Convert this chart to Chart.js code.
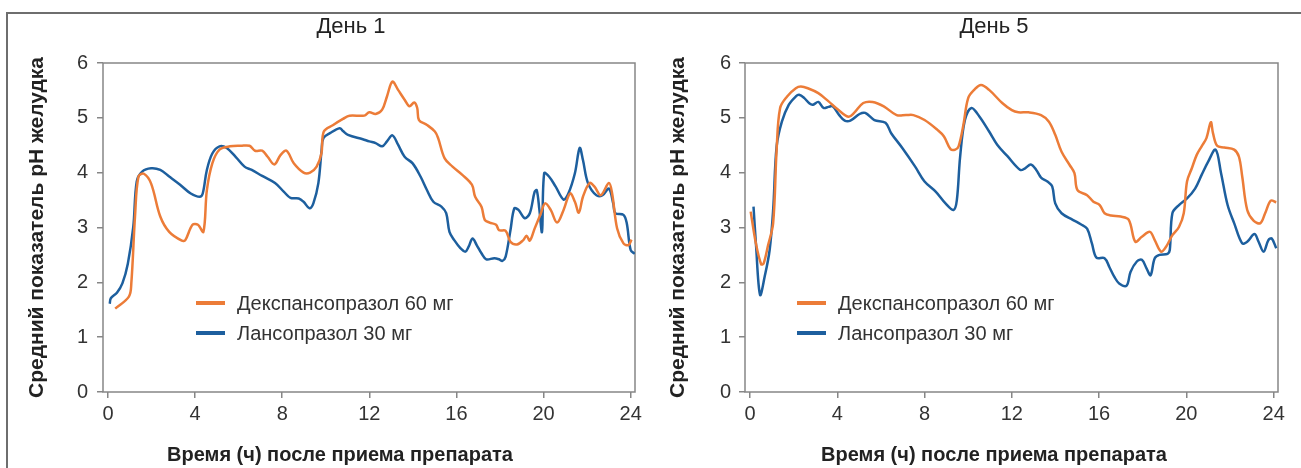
<!DOCTYPE html>
<html>
<head>
<meta charset="utf-8">
<script src="https://cdn.jsdelivr.net/npm/chart.js@4.4.1/dist/chart.umd.min.js"></script>
<style>
  body { margin: 0; background: #fff; width: 1301px; height: 468px; overflow: hidden; position: relative; }
  .frame { position: absolute; left: 6px; top: 12px; width: 1400px; height: 500px; border-top: 2px solid #6e6e6e; border-left: 2px solid #6e6e6e; }
  canvas { position: absolute; top: 0; }
  #day1 { left: 0; }
  #day5 { left: 650px; }
</style>
</head>
<body>
<div class="frame"></div>
<canvas id="day1" width="650" height="468"></canvas>
<canvas id="day5" width="651" height="468"></canvas>
<script>
// data: [hour, mean gastric pH]
const hourTicks = [0, 4, 8, 12, 16, 20, 24];
const seriesNames = ['Декспансопразол 60 мг', 'Лансопразол 30 мг'];
const panelTitles = ['День 1', 'День 5'];

const day1Dex = [[0.33,1.52],[0.96,1.74],[1.07,1.98],[1.24,3.2],[1.4,3.93],[1.65,3.98],[1.98,3.8],[2.4,3.2],[2.81,2.92],[3.39,2.76],[3.55,2.77],[3.88,3.05],[4.13,3.05],[4.38,2.92],[4.54,3.68],[4.79,4.17],[5.12,4.42],[5.6,4.48],[6.1,4.49],[6.5,4.49],[6.75,4.4],[7.08,4.4],[7.33,4.29],[7.64,4.15],[7.92,4.32],[8.2,4.4],[8.53,4.17],[8.98,4.0],[9.28,4.0],[9.58,4.11],[9.8,4.35],[9.91,4.75],[10.34,4.87],[10.79,4.98],[11.09,5.04],[11.77,5.04],[12.0,5.1],[12.29,5.07],[12.59,5.15],[12.81,5.39],[13.06,5.66],[13.32,5.51],[13.62,5.33],[13.84,5.21],[14.06,5.28],[14.2,5.18],[14.28,4.96],[14.65,4.87],[15.01,4.75],[15.16,4.63],[15.46,4.26],[15.82,4.11],[16.27,3.96],[16.71,3.78],[16.86,3.56],[17.15,3.38],[17.3,3.14],[17.52,3.09],[17.82,3.05],[17.96,2.95],[18.26,2.94],[18.48,2.74],[18.78,2.69],[19.07,2.77],[19.22,2.85],[19.37,2.76],[19.59,2.98],[19.88,3.26],[20.07,3.44],[20.33,3.32],[20.62,3.09],[20.92,3.32],[21.22,3.62],[21.44,3.47],[21.62,3.27],[21.81,3.56],[22.11,3.81],[22.33,3.75],[22.63,3.59],[23.0,3.81],[23.15,3.62],[23.38,2.98],[23.67,2.71],[23.9,2.68],[24.04,2.78]];

const day1Lan = [[0.08,1.61],[0.13,1.71],[0.41,1.81],[0.66,1.98],[0.91,2.34],[1.16,3.01],[1.32,3.84],[1.57,4.02],[1.98,4.08],[2.4,4.05],[2.81,3.93],[3.31,3.78],[3.8,3.62],[4.21,3.56],[4.35,3.62],[4.54,4.05],[4.79,4.35],[5.12,4.48],[5.45,4.45],[5.86,4.29],[6.27,4.11],[6.6,4.05],[7.08,3.94],[7.67,3.81],[8.08,3.65],[8.38,3.54],[8.76,3.53],[8.98,3.47],[9.25,3.35],[9.43,3.44],[9.66,3.81],[9.81,4.42],[9.89,4.63],[10.19,4.72],[10.64,4.81],[10.79,4.76],[11.02,4.69],[11.7,4.61],[12.0,4.57],[12.29,4.54],[12.59,4.48],[12.81,4.57],[13.06,4.68],[13.32,4.51],[13.62,4.29],[13.99,4.17],[14.35,3.93],[14.65,3.68],[14.94,3.47],[15.31,3.38],[15.53,3.26],[15.68,2.92],[15.9,2.77],[16.19,2.62],[16.41,2.56],[16.56,2.65],[16.74,2.8],[16.93,2.68],[17.15,2.53],[17.37,2.42],[17.74,2.44],[17.96,2.42],[18.11,2.39],[18.26,2.47],[18.48,2.95],[18.66,3.35],[18.85,3.32],[19.14,3.17],[19.37,3.26],[19.59,3.65],[19.69,3.68],[19.81,3.32],[19.93,2.92],[20.03,3.99],[20.25,3.93],[20.55,3.75],[20.92,3.51],[21.14,3.62],[21.44,3.99],[21.66,4.45],[21.81,4.23],[22.04,3.81],[22.42,3.59],[22.71,3.59],[23.0,3.71],[23.2,3.44],[23.3,3.26],[23.67,3.23],[23.82,3.08],[24.0,2.59],[24.19,2.52]];

const day5Dex = [[0.03,3.29],[0.27,2.71],[0.51,2.33],[0.62,2.34],[0.83,2.68],[1.06,3.08],[1.22,4.42],[1.38,5.18],[1.7,5.39],[2.1,5.54],[2.33,5.57],[2.65,5.54],[3.13,5.45],[3.6,5.3],[4.0,5.16],[4.51,5.02],[4.77,5.09],[5.19,5.27],[5.62,5.29],[6.13,5.21],[6.72,5.05],[7.15,5.05],[7.49,5.05],[8.0,4.96],[8.59,4.78],[8.89,4.66],[9.19,4.43],[9.41,4.42],[9.56,4.48],[9.78,4.87],[10.0,5.36],[10.3,5.52],[10.59,5.6],[10.96,5.51],[11.56,5.27],[12.0,5.14],[12.3,5.1],[12.76,5.1],[13.34,5.05],[13.7,4.93],[13.99,4.69],[14.28,4.38],[14.65,4.14],[14.87,3.99],[15.01,3.68],[15.45,3.59],[15.74,3.47],[16.03,3.41],[16.25,3.26],[16.55,3.22],[16.99,3.2],[17.36,3.14],[17.66,2.74],[17.96,2.83],[18.33,2.92],[18.55,2.77],[18.84,2.56],[19.07,2.65],[19.36,2.86],[19.66,3.01],[19.88,3.26],[20.03,3.84],[20.25,4.08],[20.47,4.32],[20.7,4.48],[20.92,4.63],[21.12,4.92],[21.22,4.72],[21.41,4.49],[21.74,4.46],[22.19,4.42],[22.41,4.29],[22.56,3.93],[22.79,3.32],[23.09,3.12],[23.39,3.08],[23.61,3.26],[23.87,3.49],[24.12,3.46]];

const day5Lan = [[0.16,3.38],[0.27,2.71],[0.46,1.77],[0.67,2.1],[0.9,2.59],[1.06,3.32],[1.22,4.48],[1.46,4.93],[1.78,5.24],[2.1,5.39],[2.25,5.42],[2.49,5.36],[2.73,5.26],[2.89,5.24],[3.13,5.29],[3.37,5.18],[3.6,5.2],[3.79,5.21],[4.09,5.05],[4.34,4.95],[4.6,4.95],[5.02,5.07],[5.28,5.09],[5.7,4.96],[6.21,4.91],[6.47,4.72],[6.98,4.45],[7.57,4.11],[8.0,3.84],[8.52,3.65],[8.96,3.44],[9.33,3.32],[9.48,3.5],[9.63,4.29],[9.85,4.96],[10.15,5.18],[10.52,5.02],[10.96,4.75],[11.33,4.51],[11.8,4.3],[12.39,4.05],[12.61,4.08],[12.87,4.15],[13.12,4.05],[13.34,3.91],[13.63,3.84],[13.85,3.75],[13.99,3.44],[14.28,3.26],[14.79,3.14],[15.16,3.06],[15.45,2.98],[15.67,2.71],[15.88,2.45],[16.25,2.44],[16.47,2.28],[16.7,2.1],[16.92,1.98],[17.26,1.94],[17.44,2.19],[17.73,2.38],[17.96,2.41],[18.18,2.25],[18.36,2.13],[18.55,2.44],[18.77,2.5],[19.14,2.52],[19.24,2.59],[19.36,3.26],[19.66,3.41],[20.03,3.53],[20.4,3.71],[20.7,3.96],[21.0,4.2],[21.34,4.42],[21.59,3.99],[21.89,3.41],[22.19,3.08],[22.56,2.71],[22.79,2.74],[23.12,2.88],[23.31,2.74],[23.54,2.56],[23.76,2.77],[23.91,2.8],[24.12,2.62]];

const FONT = '"Liberation Sans", Arial, sans-serif';
const ORANGE = '#ec7c38';
const BLUE = '#1d5f9e';
const AXIS_GREY = '#868686';

// draws plot frame, panel title, x-axis title and the legend inside the plot
const panelDecor = {
  id: 'panelDecor',
  beforeDatasetsDraw(chart) {
    const {ctx, chartArea: a} = chart;
    ctx.save();
    ctx.strokeStyle = AXIS_GREY;
    ctx.lineWidth = 1.5;
    ctx.strokeRect(a.left, a.top, a.right - a.left, a.bottom - a.top);
    ctx.restore();
  },
  afterDraw(chart, args, opts) {
    const {ctx, chartArea: a} = chart;
    ctx.save();
    ctx.fillStyle = '#222';
    ctx.textAlign = 'center';
    ctx.textBaseline = 'middle';
    ctx.font = '22px ' + FONT;
    ctx.fillText(opts.title, opts.titleX, 27);
    ctx.font = 'bold 20px ' + FONT;
    ctx.fillText(opts.xTitle, opts.xTitleX, 455);

    // legend
    ctx.textAlign = 'left';
    ctx.font = '20px ' + FONT;
    chart.data.datasets.forEach((ds, i) => {
      const y = opts.legendY + i * 30;
      const x = a.left + opts.legendX;
      ctx.strokeStyle = ds.borderColor;
      ctx.lineWidth = 4;
      ctx.beginPath();
      ctx.moveTo(x, y);
      ctx.lineTo(x + 29, y);
      ctx.stroke();
      ctx.fillStyle = '#333';
      ctx.fillText(ds.label, x + 41, y + 1);
    });
    ctx.restore();
  }
};

function toPoints(pairs) {
  return pairs.map(p => ({x: p[0], y: p[1]}));
}

function makePanel(canvasId, dex, lan, cfg) {
  return new Chart(document.getElementById(canvasId), {
    type: 'line',
    data: {
      datasets: [
        { label: seriesNames[0], data: toPoints(dex), borderColor: ORANGE, borderWidth: 2.5, pointRadius: 0, tension: 0.35, fill: false },
        { label: seriesNames[1], data: toPoints(lan), borderColor: BLUE, borderWidth: 2.5, pointRadius: 0, tension: 0.35, fill: false }
      ]
    },
    options: {
      responsive: false,
      animation: false,
      devicePixelRatio: 1,
      layout: { padding: { left: 0, right: cfg.padRight, top: 63, bottom: 0 } },
      plugins: {
        legend: { display: false },
        tooltip: { enabled: false },
        panelDecor: cfg.decor
      },
      scales: {
        x: {
          type: 'linear',
          min: -0.23,
          max: 24.2,
          afterBuildTicks: scale => { scale.ticks = hourTicks.map(v => ({value: v})); },
          afterFit: scale => { scale.height = 76; },
          grid: { drawOnChartArea: false, tickLength: 6, color: AXIS_GREY, lineWidth: 1.5 },
          border: { display: false },
          ticks: { color: '#333', font: { family: FONT, size: 20 }, padding: 4, maxRotation: 0 }
        },
        y: {
          min: 0,
          max: 6,
          afterFit: scale => { scale.width = cfg.yWidth; },
          grid: { drawOnChartArea: false, tickLength: 6, color: AXIS_GREY, lineWidth: 1.5 },
          border: { display: false },
          ticks: { stepSize: 1, color: '#333', font: { family: FONT, size: 20 }, padding: cfg.tickPad },
          title: {
            display: true,
            text: 'Средний показатель pH желудка',
            color: '#222',
            font: { family: FONT, size: 21, weight: 'bold' },
            padding: { top: cfg.yTitlePad, bottom: 0 }
          }
        }
      }
    },
    plugins: [panelDecor]
  });
}

makePanel('day1', day1Dex, day1Lan, {
  padRight: 15, yWidth: 103, tickPad: 9, yTitlePad: 25,
  decor: { title: panelTitles[0], titleX: 351, xTitle: 'Время (ч) после приема препарата', xTitleX: 340, legendX: 93, legendY: 303 }
});

makePanel('day5', day5Dex, day5Lan, {
  padRight: 23, yWidth: 95, tickPad: 8, yTitlePad: 16,
  decor: { title: panelTitles[1], titleX: 344, xTitle: 'Время (ч) после приема препарата', xTitleX: 344, legendX: 52, legendY: 303 }
});
</script>
</body>
</html>
